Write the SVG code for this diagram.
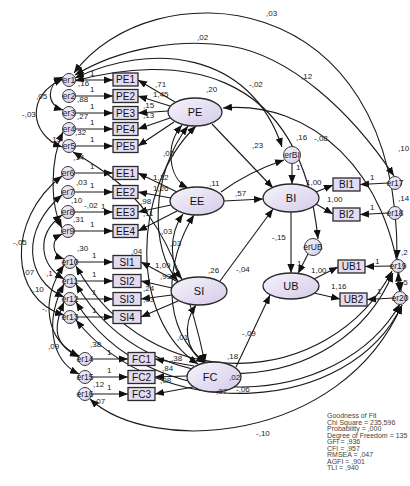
<svg xmlns="http://www.w3.org/2000/svg" width="410" height="486" viewBox="0 0 410 486">
<style>
.ln{fill:none;stroke:#1a1a1a;stroke-width:1.1}
.s{marker-end:url(#ah)}
.d{marker-start:url(#ah);marker-end:url(#ah)}
.box{fill:#e2dbf1;stroke:#2a2a2a;stroke-width:1.3}
.lat{fill:url(#lg);stroke:#2a2a2a;stroke-width:1.3}
.err{fill:url(#lg);stroke:#3a3a3a;stroke-width:1}
.bt{font-family:"Liberation Sans",Arial,sans-serif;font-size:10px;fill:#111;text-anchor:middle;dominant-baseline:central}
.lt{font-family:"Liberation Sans",Arial,sans-serif;font-size:11px;fill:#111;text-anchor:middle;dominant-baseline:central}
.et{font-family:"Liberation Sans",Arial,sans-serif;font-size:8.5px;fill:#222;text-anchor:middle;dominant-baseline:central}
.n{font-family:"Liberation Sans",Arial,sans-serif;font-size:8px;fill:#222}
.fit{font-family:"Liberation Sans",Arial,sans-serif;font-size:7px;fill:#444}
</style>
<defs>
<linearGradient id="lg" x1="0" y1="0" x2="1" y2="1">
<stop offset="0" stop-color="#f7f4fc"/><stop offset="1" stop-color="#d4cbe9"/>
</linearGradient>
<marker id="ah" viewBox="0 0 10 8" refX="10" refY="4" markerWidth="9" markerHeight="7.2" markerUnits="userSpaceOnUse" orient="auto-start-reverse">
<path d="M0,0 L10,4 L0,8 z" fill="#111"/>
</marker>
</defs>
<rect width="410" height="486" fill="#fff"/>

<g id="connectors">
<line class="ln s" x1="75.5" y1="80" x2="113" y2="80"/>
<line class="ln s" x1="75.5" y1="96" x2="113" y2="96"/>
<line class="ln s" x1="75.5" y1="113" x2="113" y2="113"/>
<line class="ln s" x1="75.5" y1="129" x2="113" y2="129"/>
<line class="ln s" x1="75.5" y1="146" x2="113" y2="146"/>
<line class="ln s" x1="74.5" y1="173" x2="113" y2="173"/>
<line class="ln s" x1="74.5" y1="192" x2="113" y2="192"/>
<line class="ln s" x1="74.5" y1="212" x2="113" y2="212"/>
<line class="ln s" x1="74.5" y1="231" x2="113" y2="231"/>
<line class="ln s" x1="76.5" y1="262" x2="113" y2="262"/>
<line class="ln s" x1="76.5" y1="281" x2="113" y2="281"/>
<line class="ln s" x1="76.5" y1="299" x2="113" y2="299"/>
<line class="ln s" x1="76.5" y1="317" x2="113" y2="317"/>
<line class="ln s" x1="91.5" y1="359" x2="128" y2="359"/>
<line class="ln s" x1="91.5" y1="377" x2="128" y2="377"/>
<line class="ln s" x1="91.5" y1="394" x2="128" y2="394"/>
<line class="ln s" x1="175" y1="102" x2="138" y2="80"/>
<line class="ln s" x1="170" y1="106" x2="138" y2="96"/>
<line class="ln s" x1="168" y1="111" x2="138" y2="113"/>
<line class="ln s" x1="170" y1="118" x2="138" y2="129"/>
<line class="ln s" x1="174" y1="122" x2="138" y2="146"/>
<line class="ln s" x1="177" y1="192" x2="138" y2="173"/>
<line class="ln s" x1="171" y1="198" x2="138" y2="192"/>
<line class="ln s" x1="171" y1="205" x2="138" y2="212"/>
<line class="ln s" x1="177" y1="211" x2="138" y2="231"/>
<line class="ln s" x1="178" y1="282" x2="141" y2="262"/>
<line class="ln s" x1="172" y1="288" x2="141" y2="281"/>
<line class="ln s" x1="172" y1="295" x2="141" y2="299"/>
<line class="ln s" x1="178" y1="301" x2="141" y2="317"/>
<line class="ln s" x1="194" y1="366" x2="155" y2="359"/>
<line class="ln s" x1="187" y1="376" x2="155" y2="377"/>
<line class="ln s" x1="193" y1="387" x2="155" y2="394"/>
<line class="ln s" x1="316" y1="192" x2="333" y2="185"/>
<line class="ln s" x1="316" y1="204" x2="333" y2="214"/>
<line class="ln s" x1="388.5" y1="183" x2="360" y2="184.5"/>
<line class="ln s" x1="388.5" y1="213" x2="360" y2="214.5"/>
<line class="ln s" x1="314" y1="279" x2="338" y2="267"/>
<line class="ln s" x1="314" y1="293" x2="340" y2="299"/>
<line class="ln s" x1="391.5" y1="266" x2="365" y2="266.5"/>
<line class="ln s" x1="393.5" y1="298" x2="367" y2="299.5"/>
<line class="ln d" x1="398" y1="272.5" x2="399.5" y2="291.5"/>
<line class="ln s" x1="212" y1="124" x2="273" y2="188"/>
<line class="ln s" x1="224" y1="201" x2="263" y2="199"/>
<line class="ln s" x1="220" y1="281" x2="273" y2="209"/>
<line class="ln s" x1="236" y1="367" x2="270" y2="295"/>
<line class="ln s" x1="291" y1="212" x2="291" y2="273"/>
<line class="ln s" x1="292" y1="163.5" x2="292" y2="184"/>
<line class="ln s" x1="308" y1="254" x2="298" y2="273.5"/>
<path class="ln s" d="M221,192 C240,178 260,168 284,160"/>
<path class="ln d" d="M182,125 C165,145 168,178 188,188"/>
<path class="ln d" d="M188,126 C150,175 150,250 178,281"/>
<path class="ln d" d="M196,126 C130,190 130,320 198,364"/>
<path class="ln d" d="M183,214 C168,235 170,265 182,279"/>
<path class="ln d" d="M194,215 C165,260 160,330 206,363"/>
<path class="ln d" d="M196,305 C182,325 185,350 205,363"/>
<path class="ln d" d="M74,73 C150,-30 400,-20 397,259"/>
<path class="ln d" d="M75,75 C120,48 180,38 230,46 C290,56 350,110 394,176"/>
<path class="ln d" d="M75,78 C150,42 250,50 282,147"/>
<path class="ln d" d="M75,81 C170,55 300,60 318,239"/>
<path class="ln d" d="M223,108 C310,100 390,170 401,291"/>
<path class="ln d" d="M63,77 C46,85 46,105 63,110"/>
<path class="ln d" d="M63,79 C25,95 30,135 62,147"/>
<path class="ln d" d="M63,132 C50,160 50,205 62,228"/>
<path class="ln d" d="M62,176 C5,220 10,300 64,315"/>
<path class="ln d" d="M62,195 C20,230 25,280 64,297"/>
<path class="ln d" d="M62,215 C35,235 40,265 64,279"/>
<path class="ln d" d="M62,234 C50,240 52,255 64,259"/>
<path class="ln d" d="M64,265 C40,300 45,340 79,356"/>
<path class="ln d" d="M64,284 C45,320 50,360 79,374"/>
<path class="ln d" d="M64,302 C52,330 55,345 79,357"/>
<path class="ln d" d="M73,152 C130,185 175,220 205,363"/>
<path class="ln d" d="M76,266 C150,400 330,390 392,271"/>
<path class="ln d" d="M76,284 C150,410 340,400 393,273"/>
<path class="ln d" d="M76,302 C150,420 340,410 400,304"/>
<path class="ln d" d="M76,320 C160,425 350,415 402,305"/>
<path class="ln d" d="M90,399 C150,455 340,445 402,305"/>
</g>

<g id="indicators">
<g id="PE1"><rect class="box" x="113" y="73" width="25" height="13"/><text class="bt" x="125.5" y="79.5">PE1</text></g>
<g id="PE2"><rect class="box" x="113" y="89.5" width="25" height="13"/><text class="bt" x="125.5" y="96">PE2</text></g>
<g id="PE3"><rect class="box" x="113" y="106.5" width="25" height="13"/><text class="bt" x="125.5" y="113">PE3</text></g>
<g id="PE4"><rect class="box" x="113" y="122.5" width="25" height="13"/><text class="bt" x="125.5" y="129">PE4</text></g>
<g id="PE5"><rect class="box" x="113" y="139.5" width="25" height="13"/><text class="bt" x="125.5" y="146">PE5</text></g>
<g id="EE1"><rect class="box" x="113" y="166.5" width="25" height="13"/><text class="bt" x="125.5" y="173">EE1</text></g>
<g id="EE2"><rect class="box" x="113" y="185.5" width="25" height="13"/><text class="bt" x="125.5" y="192">EE2</text></g>
<g id="EE3"><rect class="box" x="113" y="205.5" width="25" height="13"/><text class="bt" x="125.5" y="212">EE3</text></g>
<g id="EE4"><rect class="box" x="113" y="224.5" width="25" height="13"/><text class="bt" x="125.5" y="231">EE4</text></g>
<g id="SI1"><rect class="box" x="113" y="255.5" width="28" height="13"/><text class="bt" x="127" y="262">SI1</text></g>
<g id="SI2"><rect class="box" x="113" y="274.5" width="28" height="13"/><text class="bt" x="127" y="281">SI2</text></g>
<g id="SI3"><rect class="box" x="113" y="292.5" width="28" height="13"/><text class="bt" x="127" y="299">SI3</text></g>
<g id="SI4"><rect class="box" x="113" y="310.5" width="28" height="13"/><text class="bt" x="127" y="317">SI4</text></g>
<g id="FC1"><rect class="box" x="128" y="352.5" width="27" height="13"/><text class="bt" x="141.5" y="359">FC1</text></g>
<g id="FC2"><rect class="box" x="128" y="370.5" width="27" height="13"/><text class="bt" x="141.5" y="377">FC2</text></g>
<g id="FC3"><rect class="box" x="128" y="387.5" width="27" height="13"/><text class="bt" x="141.5" y="394">FC3</text></g>
<g id="BI1"><rect class="box" x="333" y="178" width="27" height="13"/><text class="bt" x="346.5" y="184.5">BI1</text></g>
<g id="BI2"><rect class="box" x="333" y="208" width="27" height="13"/><text class="bt" x="346.5" y="214.5">BI2</text></g>
<g id="UB1"><rect class="box" x="338" y="260" width="27" height="13"/><text class="bt" x="351.5" y="266.5">UB1</text></g>
<g id="UB2"><rect class="box" x="340" y="293" width="27" height="13"/><text class="bt" x="353.5" y="299.5">UB2</text></g>
</g>

<g id="latents">
<g id="PE"><ellipse class="lat" cx="195" cy="112" rx="27" ry="14"/><text class="lt" x="195" y="112">PE</text></g>
<g id="EE"><ellipse class="lat" cx="197" cy="201" rx="27" ry="14"/><text class="lt" x="197" y="201">EE</text></g>
<g id="SI"><ellipse class="lat" cx="199" cy="291" rx="28" ry="14"/><text class="lt" x="199" y="291">SI</text></g>
<g id="FC"><ellipse class="lat" cx="214" cy="377" rx="27" ry="15"/><text class="lt" x="210" y="377">FC</text></g>
<g id="BI"><ellipse class="lat" cx="291" cy="198" rx="28" ry="14"/><text class="lt" x="291" y="198">BI</text></g>
<g id="UB"><ellipse class="lat" cx="291" cy="286" rx="28" ry="13"/><text class="lt" x="291" y="286">UB</text></g>
</g>

<g id="errors">
<g id="er1"><circle class="err" cx="69" cy="80" r="6.5"/><text class="et" x="69" y="80">er1</text></g>
<g id="er2"><circle class="err" cx="69" cy="96" r="6.5"/><text class="et" x="69" y="96">er2</text></g>
<g id="er3"><circle class="err" cx="69" cy="113" r="6.5"/><text class="et" x="69" y="113">er3</text></g>
<g id="er4"><circle class="err" cx="69" cy="129" r="6.5"/><text class="et" x="69" y="129">er4</text></g>
<g id="er5"><circle class="err" cx="69" cy="146" r="6.5"/><text class="et" x="69" y="146">er5</text></g>
<g id="er6"><circle class="err" cx="68" cy="173" r="6.5"/><text class="et" x="68" y="173">er6</text></g>
<g id="er7"><circle class="err" cx="68" cy="192" r="6.5"/><text class="et" x="68" y="192">er7</text></g>
<g id="er8"><circle class="err" cx="68" cy="212" r="6.5"/><text class="et" x="68" y="212">er8</text></g>
<g id="er9"><circle class="err" cx="68" cy="231" r="6.5"/><text class="et" x="68" y="231">er9</text></g>
<g id="er10"><circle class="err" cx="70" cy="262" r="6.5"/><text class="et" x="70" y="262">er10</text></g>
<g id="er11"><circle class="err" cx="70" cy="281" r="6.5"/><text class="et" x="70" y="281">er11</text></g>
<g id="er12"><circle class="err" cx="70" cy="299" r="6.5"/><text class="et" x="70" y="299">er12</text></g>
<g id="er13"><circle class="err" cx="70" cy="317" r="6.5"/><text class="et" x="70" y="317">er13</text></g>
<g id="er14"><circle class="err" cx="85" cy="359" r="6.5"/><text class="et" x="85" y="359">er14</text></g>
<g id="er15"><circle class="err" cx="85" cy="377" r="6.5"/><text class="et" x="85" y="377">er15</text></g>
<g id="er16"><circle class="err" cx="85" cy="394" r="6.5"/><text class="et" x="85" y="394">er16</text></g>
<g id="er17"><circle class="err" cx="395" cy="183" r="6.5"/><text class="et" x="395" y="183">er17</text></g>
<g id="er18"><circle class="err" cx="395" cy="213" r="6.5"/><text class="et" x="395" y="213">er18</text></g>
<g id="er19"><circle class="err" cx="398" cy="266" r="6.5"/><text class="et" x="398" y="266">er19</text></g>
<g id="er20"><circle class="err" cx="400" cy="298" r="6.5"/><text class="et" x="400" y="298">er20</text></g>
<g id="erBI"><circle class="err" cx="292" cy="155" r="8.5"/><text class="et" x="292" y="155">erBI</text></g>
<g id="erUB"><circle class="err" cx="313" cy="247" r="8.5"/><text class="et" x="313" y="247">erUB</text></g>
</g>

<g id="labels">
<text class="n" x="266" y="16">,03</text>
<text class="n" x="197" y="40">,02</text>
<text class="n" x="301" y="79">,12</text>
<text class="n" x="249" y="87">-,02</text>
<text class="n" x="296" y="140">,16</text>
<text class="n" x="314" y="141">-,08</text>
<text class="n" x="206" y="92">,20</text>
<text class="n" x="252" y="148">,23</text>
<text class="n" x="209" y="186">,11</text>
<text class="n" x="235" y="196">,57</text>
<text class="n" x="236" y="272">-,04</text>
<text class="n" x="208" y="273">,26</text>
<text class="n" x="242" y="336">-,09</text>
<text class="n" x="227" y="359">,18</text>
<text class="n" x="229" y="380">,02</text>
<text class="n" x="216" y="394">,07</text>
<text class="n" x="236" y="392">-,06</text>
<text class="n" x="256" y="436">-,10</text>
<text class="n" x="272" y="240">-,15</text>
<text class="n" x="296" y="170">1</text>
<text class="n" x="306" y="185">1,00</text>
<text class="n" x="327" y="202">1,00</text>
<text class="n" x="370" y="180">1</text>
<text class="n" x="370" y="210">1</text>
<text class="n" x="398" y="151">,10</text>
<text class="n" x="398" y="201">,14</text>
<text class="n" x="297" y="266">1</text>
<text class="n" x="311" y="273">1,00</text>
<text class="n" x="331" y="289">1,16</text>
<text class="n" x="375" y="264">1</text>
<text class="n" x="377" y="294">1</text>
<text class="n" x="401" y="255">,2</text>
<text class="n" x="401" y="285">,5</text>
<text class="n" x="155" y="87">,71</text>
<text class="n" x="153" y="97">1,45</text>
<text class="n" x="143" y="108">,15</text>
<text class="n" x="143" y="118">,13</text>
<text class="n" x="153" y="180">1,12</text>
<text class="n" x="153" y="191">1,26</text>
<text class="n" x="140" y="204">,98</text>
<text class="n" x="143" y="216">,11</text>
<text class="n" x="155" y="268">1,09</text>
<text class="n" x="160" y="279">,93</text>
<text class="n" x="143" y="291">,24</text>
<text class="n" x="143" y="302">,03</text>
<text class="n" x="131" y="254">,04</text>
<text class="n" x="161" y="234">,03</text>
<text class="n" x="170" y="246">,03</text>
<text class="n" x="163" y="156">,02</text>
<text class="n" x="177" y="340">,01</text>
<text class="n" x="171" y="361">,38</text>
<text class="n" x="162" y="371">,84</text>
<text class="n" x="160" y="383">,08</text>
<text class="n" x="78" y="86">,16</text>
<text class="n" x="77" y="102">,88</text>
<text class="n" x="77" y="119">,27</text>
<text class="n" x="75" y="135">,32</text>
<text class="n" x="50" y="142">,15</text>
<text class="n" x="36" y="99">,05</text>
<text class="n" x="22" y="117">-,03</text>
<text class="n" x="73" y="160">,14</text>
<text class="n" x="76" y="185">,03</text>
<text class="n" x="71" y="203">,10</text>
<text class="n" x="84" y="208">-,02</text>
<text class="n" x="73" y="222">,31</text>
<text class="n" x="13" y="245">-,05</text>
<text class="n" x="77" y="251">,30</text>
<text class="n" x="23" y="275">,07</text>
<text class="n" x="46" y="276">,1</text>
<text class="n" x="30" y="292">-,10</text>
<text class="n" x="42" y="311">-,</text>
<text class="n" x="48" y="349">,09</text>
<text class="n" x="90" y="347">,38</text>
<text class="n" x="93" y="387">,12</text>
<text class="n" x="94" y="404">,07</text>
<text class="n" x="90" y="76">1</text>
<text class="n" x="90" y="92">1</text>
<text class="n" x="90" y="109">1</text>
<text class="n" x="90" y="125">1</text>
<text class="n" x="90" y="142">1</text>
<text class="n" x="90" y="169">1</text>
<text class="n" x="90" y="188">1</text>
<text class="n" x="101" y="209">1</text>
<text class="n" x="90" y="227">1</text>
<text class="n" x="92" y="258">1</text>
<text class="n" x="92" y="277">1</text>
<text class="n" x="92" y="295">1</text>
<text class="n" x="92" y="313">1</text>
<text class="n" x="107" y="355">1</text>
<text class="n" x="107" y="373">1</text>
<text class="n" x="107" y="390">1</text>
</g>

<g id="fit">
<text class="fit" x="327" y="418">Goodness of Fit</text>
<text class="fit" x="327" y="424.5">Chi Square = 235,596</text>
<text class="fit" x="327" y="431">Probability = ,000</text>
<text class="fit" x="327" y="437.5">Degree of Freedom = 135</text>
<text class="fit" x="327" y="444">GFI = ,936</text>
<text class="fit" x="327" y="450.5">CFI = ,957</text>
<text class="fit" x="327" y="457">RMSEA = ,047</text>
<text class="fit" x="327" y="463.5">AGFI = ,901</text>
<text class="fit" x="327" y="470">TLI = ,940</text>
</g>
</svg>
